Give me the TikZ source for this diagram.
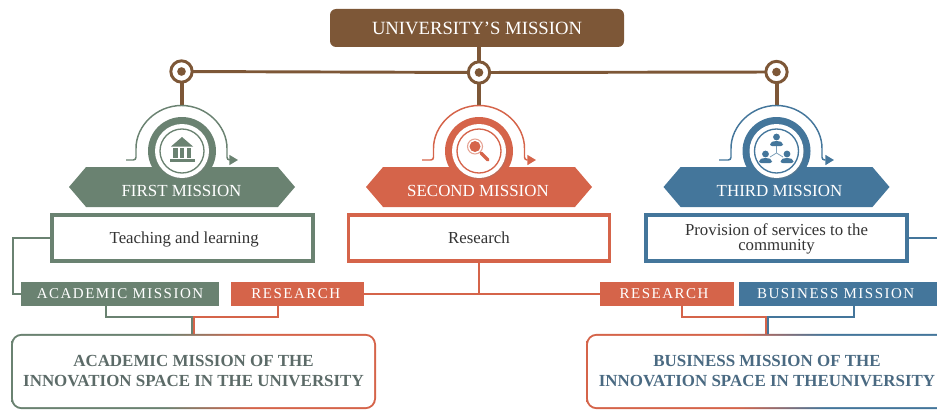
\documentclass[tikz,border=0pt]{standalone}
\usepackage{fontspec}
\setmainfont{Liberation Serif}
\newfontfamily\spacedfont[LetterSpace=10]{Liberation Serif}
\usepackage{tikz}
\usetikzlibrary{arrows.meta,shapes.symbols,shadows}
\definecolor{hubbrown}{HTML}{7D5737}
\definecolor{firstgreen}{HTML}{6A8271}
\definecolor{secondred}{HTML}{D5644A}
\definecolor{thirdblue}{HTML}{44769B}
\definecolor{acadtext}{HTML}{5C6B68}
\definecolor{busitext}{HTML}{4A6A82}
\definecolor{boxtext}{HTML}{333333}
\pgfdeclarehorizontalshading{acadshade}{100bp}{color(0bp)=(firstgreen); color(46bp)=(firstgreen); color(58bp)=(secondred); color(100bp)=(secondred)}
\pgfdeclarehorizontalshading{busishade}{100bp}{color(0bp)=(secondred); color(46bp)=(secondred); color(58bp)=(thirdblue); color(100bp)=(thirdblue)}
\tikzset{topbox/.style={fill=hubbrown,rounded corners=4.5pt,text=white,minimum width=220.5pt,minimum height=28.5pt,inner sep=0pt,outer sep=0pt,font=\fontsize{14}{16}\selectfont},
	hub/.style={circle,draw=hubbrown,fill=white,line width=2.2pt,minimum size=16pt,inner sep=0pt,outer sep=0.5pt},
	hubdot/.style={circle,fill=hubbrown,minimum size=6.5pt,inner sep=0pt},
	hubline/.style={draw=hubbrown,line width=2.2pt},
	hubdrop/.style={draw=hubbrown,line width=3pt},
	hexa/.style={signal,signal to=east and west,signal pointer angle=99,fill=#1,minimum width=169.5pt,minimum height=30pt,inner sep=0pt},
	hexatext/.style={text=white,inner sep=0pt,font=\fontsize{12.7}{15}\selectfont},
	disc/.style={circle,fill=#1,minimum size=51pt,inner sep=0pt},
	whitedisc/.style={circle,fill=white,minimum size=40.5pt,inner sep=0pt,drop shadow={opacity=.3,shadow xshift=0.6pt,shadow yshift=-0.8pt}},
	ring/.style={circle,draw=#1,line width=1pt,minimum size=33pt,inner sep=0pt},
	arcline/.style={draw=#1,line width=1.1pt,rounded corners=2pt,-{Triangle[length=6.5pt,width=7.5pt,fill=#1]}},
	textbox/.style={draw=#1,fill=white,line width=2.6pt,text=boxtext,minimum width=195.75pt,minimum height=34.5pt,inner sep=0pt,align=center,font=\fontsize{12.6}{11.3}\selectfont},
	tagbox/.style={fill=#1,text=white,minimum height=18pt,inner sep=0pt,outer sep=0pt,font=\spacedfont\fontsize{11.25}{13}\selectfont},
	thinline/.style={draw=#1,line width=1.3pt},
	outerbox/.style={shade,shading=#1,rounded corners=8pt,minimum height=56.5pt,inner sep=0pt,outer sep=0pt},
	innerbox/.style={fill=white,rounded corners=6.5pt,minimum height=53.5pt,inner sep=0pt,align=center,font=\bfseries\fontsize{12.7}{15}\selectfont},
	person/.pic={
		\fill (0,-4) circle [radius=3.4];
		\fill [rounded corners=1.5] (-6.5,5) -- (-6.5,1.5) -- (-2,0) -- (2,0) -- (6.5,1.5) -- (6.5,5) -- cycle;
	}}
\begin{document}
\begin{tikzpicture}
	[x=0.75pt,y=-0.75pt]
	\useasboundingbox (0,0) rectangle (937,410);
	\node [topbox] (mission) at (477,28) {UNIVERSITY’S MISSION};
	\node [hub] (hubfirst) at (181.5,71.5) {};
	\node [hub] (hubsecond) at (479,72.5) {};
	\node [hub] (hubthird) at (776.5,72) {};
	\node [hubdot] (dotfirst) at (hubfirst) {};
	\node [hubdot] (dotsecond) at (hubsecond) {};
	\node [hubdot] (dotthird) at (hubthird) {};
	\coordinate (tipfirst) at (181.5,105);
	\coordinate (tipsecond) at (479,105);
	\coordinate (tipthird) at (776.5,105);
	\path [hubline] (hubfirst) -- (hubsecond);
	\path [hubline] (hubsecond) -- (hubthird);
	\path [hubdrop] (hubsecond |- mission.south) -- (hubsecond);
	\path [hubdrop] (hubfirst) -- (tipfirst);
	\path [hubdrop] (hubsecond) -- (tipsecond);
	\path [hubdrop] (hubthird) -- (tipthird);

	\path [arcline=firstgreen] (126,160) -- (136,160) -- (136,151) arc [start angle=180,end angle=360,radius=45.5] -- (227,160) -- (238,160);
	\path [arcline=secondred] (422,160) -- (433.5,160) -- (433.5,151) arc [start angle=180,end angle=360,radius=45.5] -- (524.5,160) -- (536,160);
	\path [arcline=thirdblue] (719,160) -- (731,160) -- (731,151) arc [start angle=180,end angle=360,radius=45.5] -- (822,160) -- (834,160);
	\node [hexa=firstgreen] (hexfirst) at (182,187) {};
	\node [hexa=secondred] (hexsecond) at (479,187) {};
	\node [hexa=thirdblue] (hexthird) at (776.5,187) {};
	\node [disc=firstgreen] (discfirst) at (182,151) {};
	\node [disc=secondred] (discsecond) at (479,151) {};
	\node [disc=thirdblue] (discthird) at (776.5,151) {};
	\node [whitedisc] (whitefirst) at (discfirst) {};
	\node [whitedisc] (whitesecond) at (discsecond) {};
	\node [whitedisc] (whitethird) at (discthird) {};
	\node [ring=firstgreen] (ringfirst) at (discfirst) {};
	\node [ring=secondred] (ringsecond) at (discsecond) {};
	\node [ring=thirdblue] (ringthird) at (discthird) {};
	\node [hexatext] (namefirst) at (181.5,191) {FIRST MISSION};
	\node [hexatext] (namesecond) at (478,191) {SECOND MISSION};
	\node [hexatext] (namethird) at (779.5,191) {THIRD MISSION};

	\fill [firstgreen] (171,146.5) -- (182,137) -- (193,146.5) -- cycle;
	\fill [firstgreen] (173,148) rectangle (177.5,158);
	\fill [firstgreen] (180,148) rectangle (184,158);
	\fill [firstgreen] (186.5,148) rectangle (191,158);
	\fill [firstgreen] (170,158.5) rectangle (194.5,162);

	\draw [secondred!60,line width=0.8pt] (475,146.5) circle [radius=7.5];
	\fill [secondred] (475,146.5) circle [radius=5.5];
	\draw [secondred,line width=2.6pt,line cap=round] (481,153) -- (488,160);

	\draw [thirdblue!70,line width=0.6pt] (776.5,153) -- (776.5,146);
	\draw [thirdblue!70,line width=0.6pt] (776.5,153) -- (770,157);
	\draw [thirdblue!70,line width=0.6pt] (776.5,153) -- (783,157);
	\pic [thirdblue] at (776.5,141) {person};
	\pic [thirdblue] at (765.5,158) {person};
	\pic [thirdblue] at (787,158) {person};

	\node [textbox=firstgreen] (teaching) at (182.5,238) {\kern2.5pt\raisebox{0pt}[\height][0pt]{Teaching and learning}};
	\node [textbox=secondred] (research) at (479,238) {Research};
	\node [textbox=thirdblue] (services) at (776.5,238) {\rule{0pt}{10.5pt}Provision of services to the\\community};

	\node [tagbox=firstgreen,minimum width=148.5pt] (tagacademic) at (120,294) {ACADEMIC MISSION};
	\node [tagbox=secondred,minimum width=99.75pt] (tagresleft) at (297.5,294) {RESEARCH\kern2.5pt};
	\node [tagbox=secondred,minimum width=100.5pt] (tagresright) at (667,294) {RESEARCH\kern4.5pt};
	\node [tagbox=thirdblue,minimum width=148.5pt] (tagbusiness) at (838,294) {BUSINESS MISSION\kern3.5pt};

	\coordinate (bendleft) at (13,238);
	\coordinate (endright) at (940,238);
	\coordinate (joinacad) at (193,317);
	\coordinate (joinbusi) at (767,317);
	\path [thinline=firstgreen] (teaching.west) -- (bendleft) |- (tagacademic.west);
	\path [thinline=thirdblue] (services.east) -- (endright);
	\path [thinline=secondred] (tagresleft.east) -- (tagresright.west);
	\path [thinline=secondred] (research.south) -- (research.south |- tagresleft.east);

	\node [outerbox=acadshade,minimum width=273.75pt] (acadout) at (193.5,371.5) {};
	\node [innerbox,minimum width=270.75pt,text=acadtext] (acadspace) at (acadout) {ACADEMIC MISSION OF THE\\INNOVATION SPACE IN THE UNIVERSITY};
	\node [outerbox=busishade,minimum width=271.5pt] (busiout) at (767,371.5) {};
	\node [innerbox,minimum width=268.5pt,text=busitext] (busispace) at (busiout) {BUSINESS MISSION OF THE\\INNOVATION SPACE IN THEUNIVERSITY};

	\path [thinline=firstgreen] ([xshift=-10.5pt]tagacademic.south) |- (joinacad);
	\path [thinline=secondred] ([xshift=-14.6pt]tagresleft.south) |- (joinacad);
	\path [thinline=secondred] ([xshift=11.2pt]tagresright.south) |- (joinbusi);
	\path [thinline=thirdblue] ([xshift=12pt]tagbusiness.south) |- (joinbusi);
	\path [thinline=firstgreen] ([xshift=-0.6pt]joinacad) -- ([xshift=-0.6pt]joinacad |- acadout.north);
	\path [thinline=secondred] ([xshift=0.6pt]joinacad) -- ([xshift=0.6pt]joinacad |- acadout.north);
	\path [thinline=secondred] ([xshift=-0.6pt]joinbusi) -- ([xshift=-0.6pt]joinbusi |- busiout.north);
	\path [thinline=thirdblue] ([xshift=0.6pt]joinbusi) -- ([xshift=0.6pt]joinbusi |- busiout.north);
\end{tikzpicture}
\end{document}
